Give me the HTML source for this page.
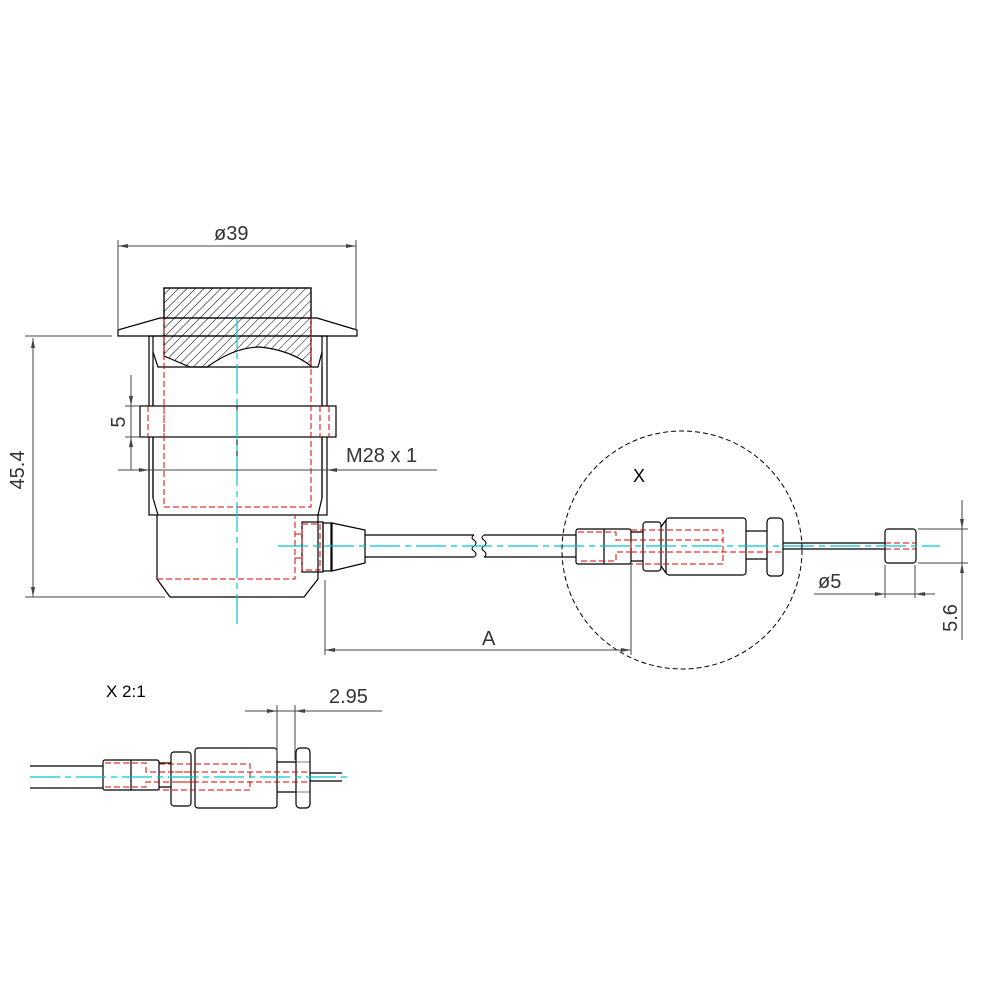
<!DOCTYPE html>
<html><head><meta charset="utf-8"><style>html,body{margin:0;padding:0;background:#fff}svg{display:block}</style></head><body>
<svg width="992" height="992" viewBox="0 0 992 992" xmlns="http://www.w3.org/2000/svg" font-family="Liberation Sans, sans-serif">
<defs>
<pattern id="h" patternUnits="userSpaceOnUse" width="6" height="6" patternTransform="rotate(45)"><line x1="0" y1="0" x2="0" y2="6" stroke="#000" stroke-width="1"/></pattern>
</defs>
<g fill="none" stroke="#000" stroke-width="1.2">
<path d="M164,288 H311 V366 Q290,350 260,347 Q235,347 207,367 H190 L164,356 Z" fill="url(#h)"/>
<rect x="164" y="288" width="147" height="30"/>
<path d="M118,330 L160,318 L317,318 L357,330 L357,336 L118,336 Z"/>
<rect x="149" y="336" width="178" height="179"/>
<path d="M153,336 V352 L158,367 H318 L322,352 V336 M153,367 V498 L158,515 M322,367 V498 L318,515"/>
<line x1="153" y1="352" x2="153" y2="498"/><line x1="322" y1="352" x2="322" y2="498"/>
<rect x="140" y="406" width="196" height="31" fill="#fff"/>
<line x1="237" y1="406" x2="237" y2="470" stroke-width="1"/>
<path d="M157,515 V579 L170,597 H304 L318,579 V515"/>
<rect x="302" y="522" width="21" height="50"/>
<rect x="323" y="523" width="8" height="48"/>
<path d="M332,523 L365,530 V563 L332,571 Z"/>
<path d="M365,535 H474 M365,557 H474 M484,535 H576 M484,557 H576"/>
<path d="M474,535 q-4,3 0,5 q4,3 0,6 q-4,3 0,5 q4,3 0,6 M484,535 q-4,3 0,5 q4,3 0,6 q-4,3 0,5 q4,3 0,6" stroke-width="1"/>
<rect x="576" y="529" width="55" height="35" rx="2"/>
<line x1="604" y1="529" x2="604" y2="564"/>
<path d="M631,532 H643 M631,561 H643"/>
<rect x="643" y="522" width="18" height="49" rx="3"/>
<rect x="666" y="518" width="80" height="57" rx="3"/>
<line x1="661" y1="527" x2="666" y2="520"/><line x1="661" y1="566" x2="666" y2="573"/>
<path d="M746,531 H767 M746,559 H767"/>
<rect x="767" y="518" width="16" height="58" rx="4"/>
<path d="M783,543 H885 M783,549 H885"/>
<rect x="885" y="529" width="31" height="34" rx="3"/>
<path d="M30,766 H103 M30,788 H103"/>
<rect x="103" y="760" width="56" height="30" rx="2"/>
<line x1="131" y1="760" x2="131" y2="790"/>
<path d="M159,763 H171 M159,787 H171"/>
<rect x="171" y="752" width="20" height="54" rx="3"/>
<rect x="195" y="748" width="82" height="60" rx="3"/>
<path d="M277,762 H296 M277,792 H296"/>
<rect x="296" y="748" width="14" height="60" rx="4"/>
<path d="M296,762 H310 M296,792 H310" stroke-width="0.6"/>
<path d="M310,773 H342 M310,781 H342"/>
</g>
<g fill="none" stroke="#d00" stroke-width="1" stroke-dasharray="6,3">
<path d="M164,318 V507 H311 V318"/>
<line x1="148" y1="406" x2="148" y2="437"/><line x1="164" y1="406" x2="164" y2="437"/>
<line x1="320" y1="406" x2="320" y2="437"/><line x1="329" y1="406" x2="329" y2="437"/>
<path d="M157,579 H295 V515"/>
<rect x="302" y="524" width="18" height="46"/>
<path d="M295,534 H302 M295,558 H302"/>
<path d="M578,532 H616 V540 H631 V552 H616 V561 H578"/>
<path d="M631,530 H723 V564 H631 M631,540 H723 M631,552 H783"/>
<path d="M885,543 H916 M885,549 H916"/>
<path d="M105,763 H146 V772 H195 M105,787 H146 V782 H195"/>
<path d="M159,764 H250 V790 H159 M175,772 H310 M175,782 H310"/>
</g>
<g stroke="#00c8d0" stroke-width="1.2" fill="none" stroke-dasharray="30,5,6,5">
<line x1="237" y1="318" x2="237" y2="625"/>
<line x1="278" y1="546" x2="940" y2="546"/>
<line x1="30" y1="777" x2="352" y2="777"/>
</g>
<ellipse cx="682" cy="550" rx="120" ry="119" fill="none" stroke="#000" stroke-width="1" stroke-dasharray="5,3"/>
<g stroke="#444" stroke-width="1" fill="none">
<path d="M118,240 V330 M356,240 V330 M118,246 H356"/>
<path d="M25,336 H112 M25,597 H165 M33,338 V597"/>
<path d="M131,375 V470 M125,406 H140 M125,437 H140"/>
<path d="M118,470 H437"/>
<path d="M325,580 V655 M631,564 V655 M325,650 H631"/>
<path d="M885,565 V598 M915,565 V598 M814,594 H935"/>
<path d="M918,529 H968 M918,563 H968 M962,500 V640"/>
<path d="M277,705 V760 M295,705 V760 M245,711 H382"/>
</g>
<g fill="#444">
<path d="M118,246 l10,-2 v4z M356,246 l-10,-2 v4z"/>
<path d="M33,338 l-2,10 h4z M33,597 l-2,-10 h4z"/>
<path d="M131,406 l-2,-10 h4z M131,437 l-2,10 h4z"/>
<path d="M149,470 l-10,-2 v4z M327,470 l10,-2 v4z"/>
<path d="M325,650 l10,-2 v4z M631,650 l-10,-2 v4z"/>
<path d="M885,594 l-10,-2 v4z M915,594 l10,-2 v4z"/>
<path d="M962,529 l-2,-10 h4z M962,563 l-2,10 h4z"/>
<path d="M277,711 l-10,-2 v4z M295,711 l10,-2 v4z"/>
</g>
<g fill="#333" font-size="20">
<text x="214" y="240">ø39</text>
<text x="346" y="462">M28 x 1</text>
<text x="482" y="645">A</text>
<text x="818" y="588">ø5</text>
<text x="633" y="482" font-size="18" fill="#000">X</text>
<text x="329" y="703">2.95</text>
<text x="106" y="697" font-size="17" fill="#000">X 2:1</text>
<text transform="translate(24,470) rotate(-90)" text-anchor="middle">45.4</text>
<text transform="translate(125,422) rotate(-90)" text-anchor="middle">5</text>
<text transform="translate(957,618) rotate(-90)" text-anchor="middle">5.6</text>
</g>
</svg>
</body></html>
